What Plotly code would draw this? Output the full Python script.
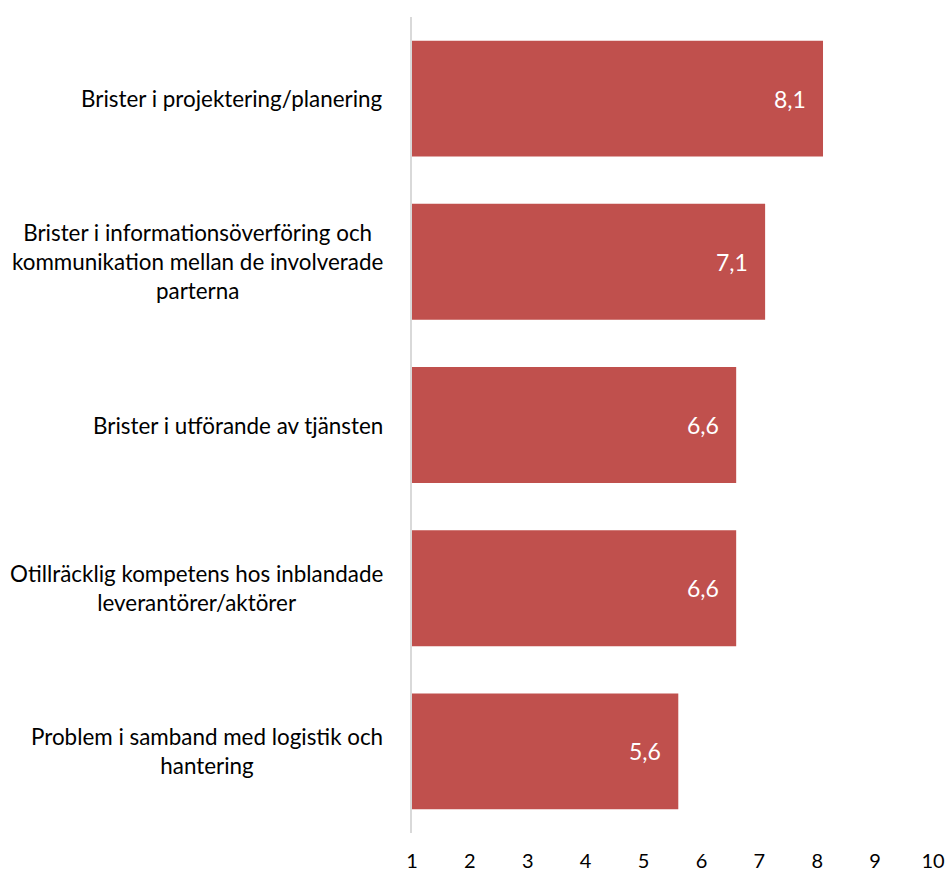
import plotly.graph_objects as go

# Orsaker till fel och brister, medelbetyg (skala 1–10)
categories = [
    "Brister i projektering/planering",
    "Brister i informationsöverföring och<br>kommunikation mellan de involverade<br>parterna",
    "Brister i utförande av tjänsten",
    "Otillräcklig kompetens hos inblandade<br>leverantörer/aktörer",
    "Problem i samband med logistik och<br>hantering",
]
values = [8.1, 7.1, 6.6, 6.6, 5.6]
x_ticks = [1, 2, 3, 4, 5, 6, 7, 8, 9, 10]

FONT = "Lato, Calibri, Carlito, sans-serif"
BAR_COLOR = "#c0504d"

fig = go.Figure(
    go.Bar(
        y=categories,
        x=values,
        orientation="h",
        marker=dict(color=BAR_COLOR, line=dict(width=0)),
        hoverinfo="skip",
    )
)

annotations = []
# Value labels inside the bar end
for cat, v in zip(categories, values):
    annotations.append(dict(
        x=v, y=cat, xref="x", yref="y",
        text=f"{v:.1f}".replace(".", ","),
        showarrow=False, xanchor="right", xshift=-15,
        font=dict(family=FONT, size=23, color="white"),
    ))
# Category labels: block right-aligned to the axis, lines centred
for cat in categories:
    annotations.append(dict(
        x=0, y=cat, xref="paper", yref="y",
        text=cat, showarrow=False, xanchor="right", align="center",
        xshift=-27,
        font=dict(family=FONT, size=22.4, color="#000000"),
    ))

fig.update_layout(
    width=947, height=872,
    margin=dict(l=412, r=14, t=17, b=39, autoexpand=False),
    paper_bgcolor="white", plot_bgcolor="white",
    bargap=0.29,
    showlegend=False,
    annotations=annotations,
    font=dict(family=FONT, size=20, color="#000000"),
    xaxis=dict(
        range=[1, 10], tickvals=x_ticks, ticktext=[str(t) for t in x_ticks],
        showgrid=False, zeroline=False, showline=False,
        ticks="outside", ticklen=10, tickcolor="rgba(0,0,0,0)",
        tickfont=dict(family=FONT, size=20, color="#000000"),
        ticklabeloverflow="allow", automargin=False,
        fixedrange=True,
    ),
    yaxis=dict(
        autorange="reversed", showticklabels=False, showgrid=False,
        zeroline=False, showline=True, linecolor="#d9d9d9", linewidth=2,
        ticks="", automargin=False, fixedrange=True,
    ),
)

fig.write_html("out.html")
